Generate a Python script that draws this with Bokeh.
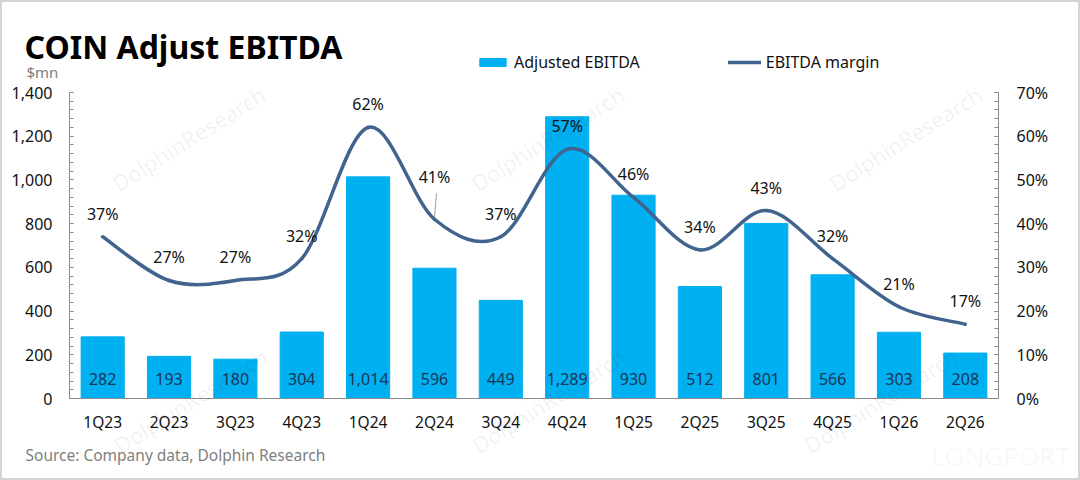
from bokeh.plotting import figure
from bokeh.models import (Range1d, LinearAxis, SingleIntervalTicker, FixedTicker,
                          NumeralTickFormatter, PrintfTickFormatter, Label,
                          Legend, LegendItem)
from bokeh.core.properties import value
from bokeh.embed import file_html
from bokeh.resources import INLINE

# data
quarters = ["1Q23", "2Q23", "3Q23", "4Q23", "1Q24", "2Q24", "3Q24",
            "4Q24", "1Q25", "2Q25", "3Q25", "4Q25", "1Q26", "2Q26"]
adj_ebitda = [282, 193, 180, 304, 1014, 596, 449, 1289, 930, 512, 801, 566, 303, 208]
ebitda_margin = [37, 27, 27, 32, 62, 41, 37, 57, 46, 34, 43, 32, 21, 17]

FONT = "Noto Sans"
BAR_COLOR = "#00B0F0"
LINE_COLOR = "#41648E"
BAR_TEXT = "#1C3557"
AXIS_GRAY = "#8C8C8C"

# the frame fills the whole canvas; the chart area sits inside it
W, H = 1080, 480
AX_L, AX_R, AX_T, AX_B = 69, 998, 92, 398
Y_MAX, P_MAX = 1400, 70
n = len(quarters)
xs = list(range(n))

ux = (AX_R - AX_L) / n
uy = (AX_B - AX_T) / Y_MAX
x_range = Range1d(-0.5 - AX_L / ux, n - 0.5 + (W - AX_R) / ux)
y_range = Range1d(-(H - AX_B) / uy, Y_MAX + AX_T / uy)
p_scale = Y_MAX / P_MAX

p = figure(width=W, height=H, output_backend="svg", toolbar_location=None,
           x_range=x_range, y_range=y_range,
           min_border=0, min_border_left=0, min_border_right=0,
           min_border_top=0, min_border_bottom=0)
# light grey border round the whole picture
p.outline_line_color = "#D4D4D4"
p.outline_line_width = 3
p.xgrid.visible = False
p.ygrid.visible = False
p.extra_y_ranges = {"pct": Range1d(y_range.start / p_scale, y_range.end / p_scale)}

# left axis
ya = p.yaxis[0]
ya.ticker = SingleIntervalTicker(interval=200, num_minor_ticks=5)
ya.formatter = NumeralTickFormatter(format="0,0")
ya.fixed_location = -0.5
ya.bounds = (0, Y_MAX)
ya.major_label_standoff = 17

# right axis
ra = LinearAxis(y_range_name="pct",
                ticker=SingleIntervalTicker(interval=10, num_minor_ticks=5),
                formatter=PrintfTickFormatter(format="%d%%"))
ra.fixed_location = n - 0.5
ra.bounds = (0, P_MAX)
ra.major_label_standoff = 18
p.add_layout(ra, "right")

for ax in [ya, ra]:
    ax.major_tick_in = 4
    ax.major_tick_out = 0
    ax.minor_tick_in = 4
    ax.minor_tick_out = 0
    ax.major_tick_line_color = AXIS_GRAY
    ax.minor_tick_line_color = AXIS_GRAY
    ax.major_label_text_font_size = "16px"

# bottom axis
xa = p.xaxis[0]
xa.ticker = FixedTicker(ticks=xs)
xa.major_label_overrides = {i: q for i, q in enumerate(quarters)}
xa.fixed_location = 0
xa.bounds = (-0.5, n - 0.5)
xa.major_tick_line_color = None
xa.minor_tick_line_color = None
xa.major_label_standoff = 6
xa.major_label_text_font_size = "15.5px"

for ax in [ya, ra, xa]:
    ax.axis_line_color = AXIS_GRAY
    ax.major_label_text_font = FONT
    ax.major_label_text_color = "#111111"


def screen(x, y):
    # reference pixel (top-left origin) -> frame screen units (bottom-left origin)
    return dict(x=x, y=H - y, x_units="screen", y_units="screen")


# faint watermarks
for cx, cy in [(188, 138), (547, 138), (905, 138), (190, 400), (548, 400), (880, 400)]:
    p.add_layout(Label(**screen(cx, cy), text="DolphinResearch", text_font=FONT,
                       text_font_size="22px", text_color="#000000", text_alpha=0.06,
                       angle=32, angle_units="deg",
                       text_align="center", text_baseline="middle"))
p.add_layout(Label(**screen(1000, 455), text="LONGPORT", text_font=FONT,
                   text_font_size="26px", text_color="#000000", text_alpha=0.04,
                   text_align="center", text_baseline="middle"))

# bars
bars = p.vbar(x=xs, top=adj_ebitda, width=0.65, color=BAR_COLOR)
p.text(x=xs, y=[0] * n, text=[f"{v:,}" for v in adj_ebitda],
       text_font=value(FONT), text_font_size="16px", text_color=BAR_TEXT,
       text_align="center", text_baseline="middle", y_offset=-20)

# smoothed margin line (Catmull-Rom style bezier through the points)
x0, y0, x1, y1, cx0, cy0, cx1, cy1 = [], [], [], [], [], [], [], []
for i in range(n - 1):
    a = max(i - 1, 0)
    d = min(i + 2, n - 1)
    x0.append(xs[i]); y0.append(ebitda_margin[i])
    x1.append(xs[i + 1]); y1.append(ebitda_margin[i + 1])
    cx0.append(xs[i] + (xs[i + 1] - xs[a]) / 6)
    cy0.append(ebitda_margin[i] + (ebitda_margin[i + 1] - ebitda_margin[a]) / 6)
    cx1.append(xs[i + 1] - (xs[d] - xs[i]) / 6)
    cy1.append(ebitda_margin[i + 1] - (ebitda_margin[d] - ebitda_margin[i]) / 6)
curve = p.bezier(x0=x0, y0=y0, x1=x1, y1=y1, cx0=cx0, cy0=cy0, cx1=cx1, cy1=cy1,
                 line_color=LINE_COLOR, line_width=3.5, line_cap="round",
                 y_range_name="pct")

# margin labels (2Q24 label sits higher with a leader line)
offsets = [-23] * n
offsets[5] = -42
px_pct = P_MAX / (AX_B - AX_T)
p.segment(x0=[xs[5] + 0.03], y0=[ebitda_margin[5] + 26 * px_pct],
          x1=[xs[5]], y1=[ebitda_margin[5] + 2 * px_pct],
          line_color="#A0A0A0", line_width=1, y_range_name="pct")
for i in range(n):
    p.text(x=[xs[i]], y=[ebitda_margin[i]], text=[f"{ebitda_margin[i]}%"],
           text_font=value(FONT), text_font_size="16px", text_color="#111111",
           text_align="center", text_baseline="middle", y_offset=offsets[i],
           y_range_name="pct")

# legend
legend = Legend(items=[LegendItem(label="Adjusted EBITDA", renderers=[bars]),
                       LegendItem(label="EBITDA margin", renderers=[curve])],
                orientation="horizontal", location=(476, H - 73),
                glyph_width=33, glyph_height=10, label_standoff=5, spacing=88,
                padding=0, margin=0, border_line_color=None,
                background_fill_alpha=0,
                label_text_font=FONT, label_text_font_size="16px",
                label_text_color="#111111", label_height=12)
p.add_layout(legend, "center")

# title and notes
p.add_layout(Label(**screen(24, 46), text="COIN Adjust EBITDA", text_font=FONT,
                   text_font_size="32px", text_font_style="bold", text_color="#000000",
                   text_baseline="alphabetic"))
p.add_layout(Label(**screen(26, 71), text="$mn", text_font=FONT, text_font_size="15px",
                   text_color="#808080", text_baseline="alphabetic"))
p.add_layout(Label(**screen(25, 454), text="Source: Company data, Dolphin Research",
                   text_font=FONT, text_font_size="15.5px", text_color="#808080",
                   text_baseline="middle"))

open("out.html", "w").write(file_html(p, INLINE))
